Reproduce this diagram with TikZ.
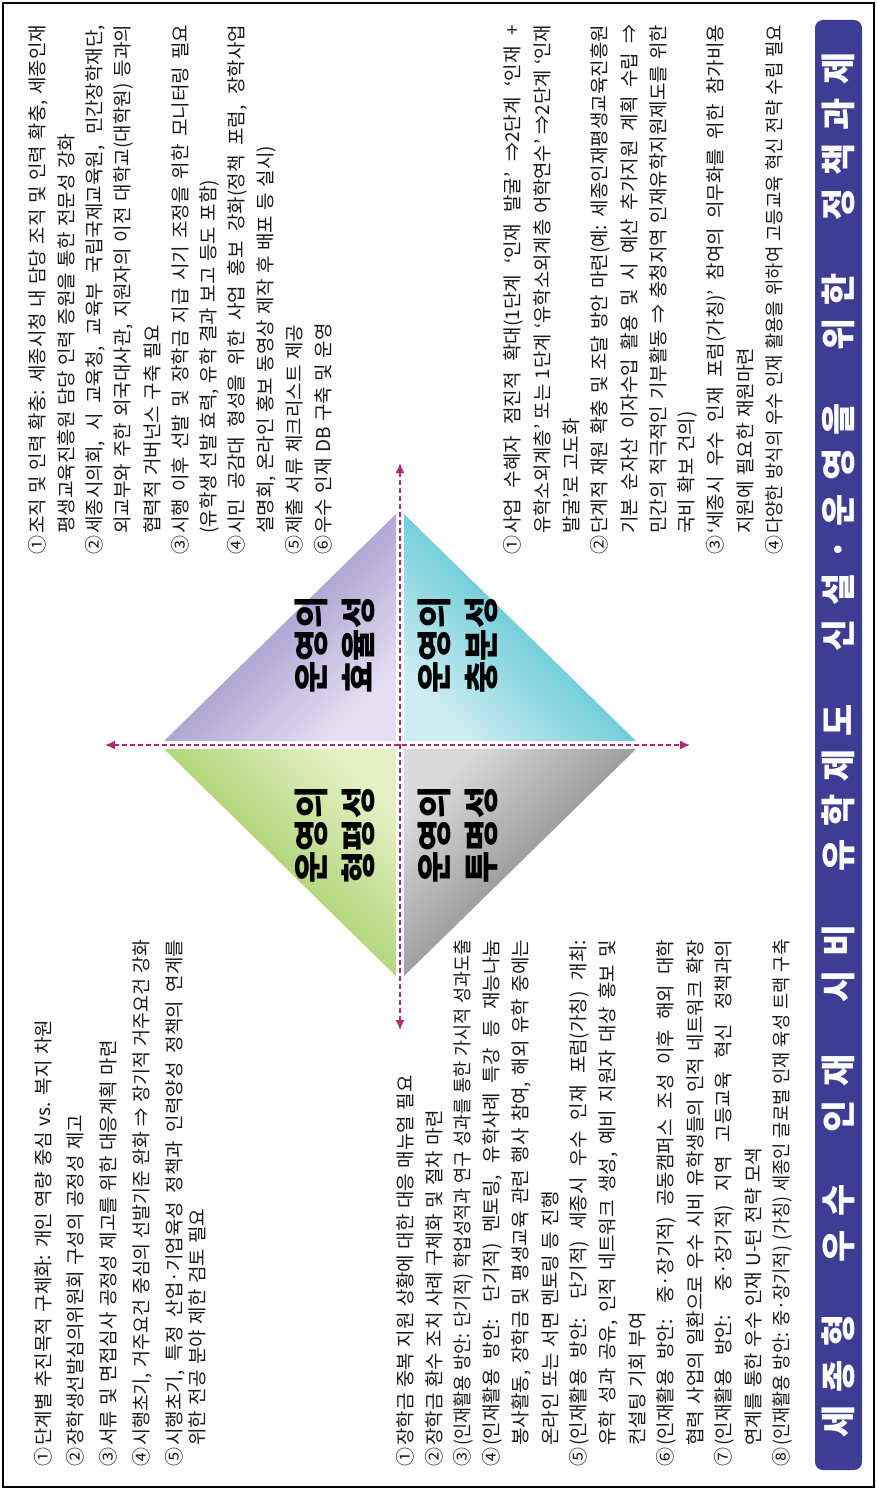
\documentclass[tikz,border=0pt]{standalone}
\usepackage{fontspec}
\usetikzlibrary{arrows.meta}
\newfontfamily\kr{Noto Sans CJK KR}
\definecolor{titlec}{RGB}{61,61,150}
\definecolor{bodyc}{RGB}{25,25,25}
\definecolor{arrowc}{RGB}{180,40,120}
\definecolor{pudark}{RGB}{125,110,182}
\definecolor{pupale}{RGB}{228,224,242}
\definecolor{grdark}{RGB}{128,190,55}
\definecolor{grpale}{RGB}{230,240,195}
\definecolor{cydark}{RGB}{30,175,196}
\definecolor{cypale}{RGB}{205,237,242}
\definecolor{gydark}{RGB}{100,100,100}
\definecolor{gypale}{RGB}{218,218,218}
\newsavebox\lnbox
\newcommand\mkl[4]{\node[txt] (#1) at (#2,#3-1490) {#4};}
\newcommand\cj[2]{\sbox\lnbox{#2}\ifdim\wd\lnbox>#1pt\relax\resizebox{#1pt}{\height}{\usebox\lnbox}\else\makebox[#1pt][s]{#2}\fi}
\newcommand\nn[2]{\makebox[21pt][l]{#1}#2}
\newcommand\nj[3]{\makebox[21pt][l]{#1}\cj{#2}{#3}}
\newcommand\Lg{\hskip 0pt plus 1fil\relax}
\newcommand\Wg{\hskip 0pt plus 4fil\relax}
\newcommand\bodyfont{\kr\fontsize{19}{22}\selectfont\spaceskip=5.5pt plus 8pt minus 1pt\relax}
\begin{document}
\begin{tikzpicture}[x=1pt,y=1pt,
  txt/.style={rotate=90, anchor=west, inner sep=0pt, font=\bodyfont, text=bodyc},
  lbl/.style={rotate=90, align=center, inner sep=0pt, font=\kr\bfseries\fontsize{35}{47}\selectfont, text=black},
  titlebar/.style={rotate=90, fill=titlec, rounded corners=8pt, minimum width=1450pt, minimum height=47pt, inner sep=0pt, text=white, font=\kr\bfseries\fontsize{35}{40}\selectfont},
  darrow/.style={draw=arrowc, line width=1.5pt, dash pattern=on 5pt off 3pt, {Latex[length=10pt,width=9pt]}-{Latex[length=10pt,width=9pt]}}]
\useasboundingbox (0,0) rectangle (877,-1490);
\draw[line width=1.2pt] (3,-3) rectangle (874,-1487);
% title bar
\node[titlebar] (title) at (838.5,-745) {\makebox[1385pt][s]{세\Lg 종\Lg 형\Wg 우\Lg 수\Wg 인\Lg 재\Wg 시\Lg 비\Wg 유\Lg 학\Lg 제\Lg 도\Wg 신\Lg 설\Lg ·\Lg 운\Lg 영\Lg 을\Wg 위\Lg 한\Wg 정\Lg 책\Lg 과\Lg 제}};
% diamond
\shade[top color=pudark, bottom color=pupale, shading angle=45] (164,-741) -- (396,-741) -- (396,-514) -- cycle;
\shade[top color=grpale, bottom color=grdark, shading angle=-45] (164,-749) -- (396,-749) -- (396,-976) -- cycle;
\shade[top color=cydark, bottom color=cypale, shading angle=-45] (404,-741) -- (636,-741) -- (404,-514) -- cycle;
\shade[top color=gypale, bottom color=gydark, shading angle=45] (404,-749) -- (636,-749) -- (404,-976) -- cycle;
\coordinate (vt) at (400,-463);
\coordinate (vb) at (400,-1030);
\coordinate (hl) at (105,-745);
\coordinate (hr) at (690,-745);
\draw[darrow] (vt) -- (vb);
\draw[darrow] (hl) -- (hr);
\node[lbl] (lpu) at (335,-645) {운영의\\효율성};
\node[lbl] (lgr) at (335,-835) {운영의\\형평성};
\node[lbl] (lcy) at (458,-645) {운영의\\충분성};
\node[lbl] (lgy) at (458,-835) {운영의\\투명성};
% top-left group
\mkl{tl1}{43}{23}{\nn{①}{단계별 추진목적 구체화: 개인 역량 중심 vs. 복지 차원}}
\mkl{tl2}{75}{23}{\nn{②}{장학생선발심의위원회 구성의 공정성 제고}}
\mkl{tl3}{108}{23}{\nn{③}{서류 및 면접심사 공정성 제고를 위한 대응계획 마련}}
\mkl{tl4}{142}{23}{\nj{④}{506}{시행초기, 거주요건 중심의 선발기준 완화 ⇒ 장기적 거주요건 강화}}
\mkl{tl5}{175}{23}{\nj{⑤}{506}{시행초기, 특정 산업·기업육성 정책과 인력양성 정책의 연계를}}
\mkl{tl6}{197}{44}{위한 전공 분야 제한 검토 필요}
% top-right group
\mkl{tr1}{38}{935}{\nj{①}{509}{조직 및 인력 확충: 세종시청 내 담당 조직 및 인력 확충, 세종인재}}
\mkl{tr2}{66.5}{956}{평생교육진흥원 담당 인력 증원을 통한 전문성 강화}
\mkl{tr3}{95}{935}{\nj{②}{509}{세종시의회, 시 교육청, 교육부 국립국제교육원, 민간장학재단,}}
\mkl{tr4}{123.5}{956}{\cj{509}{외교부와 주한 외국대사관, 지원자의 이전 대학교(대학원) 등과의}}
\mkl{tr5}{152}{956}{협력적 거버넌스 구축 필요}
\mkl{tr6}{180.5}{935}{\nj{③}{509}{시행 이후 선발 및 장학금 지급 시기 조정을 위한 모니터링 필요}}
\mkl{tr7}{209}{956}{(유학생 선발 효력, 유학 결과 보고 등도 포함)}
\mkl{tr8}{237.5}{935}{\nj{④}{509}{시민 공감대 형성을 위한 사업 홍보 강화(정책 포럼, 장학사업}}
\mkl{tr9}{266}{956}{설명회, 온라인 홍보 동영상 제작 후 배포 등 실시)}
\mkl{tr10}{294.5}{935}{\nn{⑤}{제출 서류 체크리스트 제공}}
\mkl{tr11}{323}{935}{\nn{⑥}{우수 인재 DB 구축 및 운영}}
% bottom-left group
\mkl{bl1}{405}{23}{\nn{①}{장학금 중복 지원 상황에 대한 대응 매뉴얼 필요}}
\mkl{bl2}{434}{23}{\nn{②}{장학금 환수 조치 사례 구체화 및 절차 마련}}
\mkl{bl3}{463}{23}{\nj{③}{506}{(인재활용 방안: 단기적) 학업성적과 연구 성과를 통한 가시적 성과도출}}
\mkl{bl4}{492}{23}{\nj{④}{506}{(인재활용 방안: 단기적) 멘토링, 유학사례 특강 등 재능나눔}}
\mkl{bl5}{521}{44}{\cj{506}{봉사활동, 장학금 및 평생교육 관련 행사 참여, 해외 유학 중에는}}
\mkl{bl6}{550}{44}{온라인 또는 서면 멘토링 등 진행}
\mkl{bl7}{579}{23}{\nj{⑤}{506}{(인재활용 방안: 단기적) 세종시 우수 인재 포럼(가칭) 개최:}}
\mkl{bl8}{608}{44}{\cj{506}{유학 성과 공유, 인적 네트워크 생성, 예비 지원자 대상 홍보 및}}
\mkl{bl9}{637}{44}{컨설팅 기회 부여}
\mkl{bl10}{666}{23}{\nj{⑥}{506}{(인재활용 방안: 중·장기적) 공동캠퍼스 조성 이후 해외 대학}}
\mkl{bl11}{695}{44}{\cj{506}{협력 사업의 일환으로 우수 시비 유학생들의 인적 네트워크 확장}}
\mkl{bl12}{724}{23}{\nj{⑦}{506}{(인재활용 방안: 중·장기적) 지역 고등교육 혁신 정책과의}}
\mkl{bl13}{753}{44}{연계를 통한 우수 인재 U-턴 전략 모색}
\mkl{bl14}{782}{23}{\nj{⑧}{506}{(인재활용 방안: 중·장기적) (가칭) 세종인 글로벌 인재 육성 트랙 구축}}
% bottom-right group
\mkl{br1}{513}{935}{\nj{①}{509}{사업 수혜자 점진적 확대(1단계 ‘인재 발굴’ ⇒2단계 ‘인재 +}}
\mkl{br2}{542}{956}{\cj{509}{유학소외계층’ 또는 1단계 ‘유학소외계층 어학연수’ ⇒2단계 ‘인재}}
\mkl{br3}{571}{956}{발굴’로 고도화}
\mkl{br4}{600}{935}{\nj{②}{509}{단계적 재원 확충 및 조달 방안 마련(예: 세종인재평생교육진흥원}}
\mkl{br5}{629}{956}{\cj{509}{기본 순자산 이자수입 활용 및 시 예산 추가지원 계획 수립 ⇒}}
\mkl{br6}{658}{956}{\cj{509}{민간의 적극적인 기부활동 ⇒ 충청지역 인재유학지원제도를 위한}}
\mkl{br7}{687}{956}{국비 확보 건의)}
\mkl{br8}{716}{935}{\nj{③}{509}{‘세종시 우수 인재 포럼(가칭)’ 참여의 의무화를 위한 참가비용}}
\mkl{br9}{745}{956}{지원에 필요한 재원마련}
\mkl{br10}{774}{935}{\nj{④}{509}{다양한 방식의 우수 인재 활용을 위하여 고등교육 혁신 전략 수립 필요}}
\end{tikzpicture}
\end{document}
